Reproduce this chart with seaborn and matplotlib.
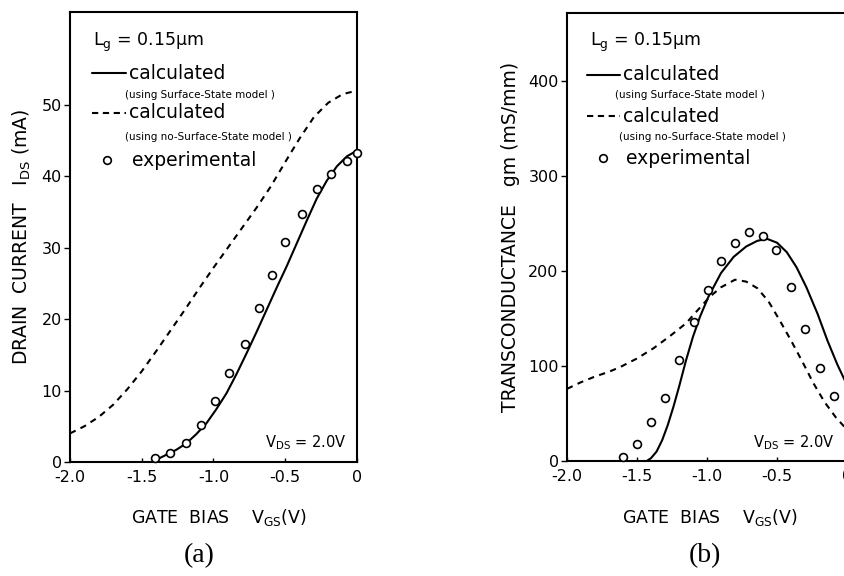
import matplotlib
matplotlib.use("Agg")
import matplotlib.pyplot as plt
import seaborn as sns
import pandas as pd
from matplotlib.lines import Line2D

# ---------------- data ----------------
# (a) drain current
a_solid_x = [-1.43, -1.40, -1.33, -1.26, -1.19, -1.12, -1.05, -0.98, -0.91, -0.84, -0.77, -0.70,
             -0.63, -0.56, -0.49, -0.42, -0.35, -0.28, -0.21, -0.14, -0.07, 0.0]
a_solid_y = [0.0, 0.3, 1.0, 1.7, 2.6, 3.9, 5.4, 7.4, 9.6, 12.3, 15.2, 18.2,
             21.3, 24.4, 27.4, 30.6, 33.8, 36.9, 39.4, 41.4, 42.8, 43.6]
a_dash_x = [-2.0, -1.9, -1.8, -1.7, -1.6, -1.5, -1.4, -1.3, -1.2, -1.1, -1.0, -0.9, -0.8,
            -0.7, -0.6, -0.5, -0.4, -0.3, -0.2, -0.1, 0.0]
a_dash_y = [4.0, 5.0, 6.3, 8.0, 10.2, 12.7, 15.5, 18.4, 21.3, 24.3, 27.2, 30.0, 32.8,
            35.6, 38.6, 42.0, 45.3, 48.3, 50.3, 51.5, 52.0]
a_exp_x = [-1.41, -1.30, -1.19, -1.09, -0.99, -0.89, -0.78, -0.68, -0.59, -0.50,
           -0.38, -0.28, -0.18, -0.07, 0.0]
a_exp_y = [0.5, 1.2, 2.7, 5.2, 8.6, 12.4, 16.5, 21.6, 26.2, 30.8,
           34.7, 38.2, 40.3, 42.1, 43.2]

# (b) transconductance
b_solid_x = [-1.43, -1.40, -1.36, -1.32, -1.28, -1.24, -1.20, -1.15, -1.10, -1.05, -0.99,
             -0.90, -0.81, -0.72, -0.64, -0.57, -0.50, -0.43, -0.36, -0.29, -0.21, -0.14,
             -0.07, 0.0]
b_solid_y = [0, 3, 10, 22, 38, 57, 78, 106, 131, 152, 173,
             198, 215, 226, 232, 234, 230, 220, 204, 183, 155, 127,
             102, 80]
b_dash_x = [-2.0, -1.9, -1.8, -1.7, -1.62, -1.5, -1.38, -1.27, -1.15, -1.06, -0.98, -0.90,
            -0.80, -0.72, -0.64, -0.56, -0.48, -0.40, -0.32, -0.24, -0.16, -0.08, 0.0]
b_dash_y = [76, 83, 89, 94, 99, 108, 119, 131, 145, 160, 173, 183,
            191, 189, 182, 168, 148, 127, 105, 82, 62, 46, 33]
b_exp_x = [-1.60, -1.50, -1.40, -1.30, -1.20, -1.09, -0.99, -0.90, -0.80, -0.70,
           -0.60, -0.51, -0.40, -0.30, -0.19, -0.095]
b_exp_y = [4, 18, 41, 66, 106, 146, 180, 211, 230, 241,
           237, 222, 183, 139, 98, 69]

x_ticks = [-2.0, -1.5, -1.0, -0.5, 0.0]
x_ticklabels = ["-2.0", "-1.5", "-1.0", "-0.5", "0"]
a_yticks = [0, 10, 20, 30, 40, 50]
b_yticks = [0, 100, 200, 300, 400]

# ---------------- style ----------------
sns.set_theme(style="ticks")
plt.rcParams["font.family"] = ["DejaVu Sans"]
plt.rcParams["axes.linewidth"] = 1.5
plt.rcParams["xtick.major.width"] = 1.0
plt.rcParams["ytick.major.width"] = 1.0
plt.rcParams["text.color"] = "black"
plt.rcParams["axes.labelcolor"] = "black"
plt.rcParams["xtick.color"] = "black"
plt.rcParams["ytick.color"] = "black"
plt.rcParams["axes.edgecolor"] = "black"

fig = plt.figure(figsize=(8.45, 5.76), dpi=100)
W, H = 845.0, 576.0
axA = fig.add_axes([70 / W, 1 - 462 / H, 287 / W, 450 / H])
axB = fig.add_axes([567 / W, 1 - 461 / H, 280 / W, 448 / H])


def draw(ax, sx, sy, dx, dy, ex, ey):
    sns.lineplot(data=pd.DataFrame({"x": sx, "y": sy}), x="x", y="y", ax=ax,
                 color="black", lw=1.5, sort=False, estimator=None)
    sns.lineplot(data=pd.DataFrame({"x": dx, "y": dy}), x="x", y="y", ax=ax,
                 color="black", lw=1.5, linestyle=(0, (3, 2.6)), sort=False, estimator=None)
    sns.scatterplot(data=pd.DataFrame({"x": ex, "y": ey}), x="x", y="y", ax=ax,
                    marker="o", s=32, facecolor="white", edgecolor="black",
                    linewidth=1.2, zorder=5, clip_on=False)


draw(axA, a_solid_x, a_solid_y, a_dash_x, a_dash_y, a_exp_x, a_exp_y)
draw(axB, b_solid_x, b_solid_y, b_dash_x, b_dash_y, b_exp_x, b_exp_y)

axA.set_xlim(-2.0, 0.0)
axA.set_ylim(0, 63)
axB.set_xlim(-2.0, 0.0)
axB.set_ylim(0, 472)

for ax, yt in ((axA, a_yticks), (axB, b_yticks)):
    ax.set_xticks(x_ticks)
    ax.set_xticklabels(x_ticklabels)
    ax.set_yticks(yt)
    ax.set_yticklabels([str(v) for v in yt])
    ax.tick_params(axis="x", direction="in", length=3, labelsize=11.5, pad=6, colors="black")
    ax.tick_params(axis="y", direction="out", length=4, labelsize=11.5, pad=2, colors="black")
    ax.set_xlabel("")
    for s in ax.spines.values():
        s.set_visible(True)
        s.set_color("black")

axA.set_ylabel("DRAIN  CURRENT   $\\mathrm{I_{DS}}$ (mA)", fontsize=13.5, labelpad=6)
axB.set_ylabel("TRANSCONDUCTANCE   gm (mS/mm)", fontsize=13.5, labelpad=6)


def legend(ax, p):
    ax.text(p["lg"][0], p["lg"][1], "$\\mathrm{L_g}$ = 0.15μm", transform=ax.transAxes,
            fontsize=12.5, va="center", ha="left")
    ax.add_line(Line2D(p["sl"][0:2], [p["sl"][2]] * 2, transform=ax.transAxes,
                       color="black", lw=1.5))
    ax.text(p["c1"][0], p["c1"][1], "calculated", transform=ax.transAxes,
            fontsize=13.5, va="center", ha="left")
    ax.text(p["s1"][0], p["s1"][1], "(using Surface-State model )", transform=ax.transAxes,
            fontsize=7.5, va="center", ha="left")
    ax.add_line(Line2D(p["dl"][0:2], [p["dl"][2]] * 2, transform=ax.transAxes,
                       color="black", lw=1.5, linestyle=(0, (3, 2.2))))
    ax.text(p["c2"][0], p["c2"][1], "calculated", transform=ax.transAxes,
            fontsize=13.5, va="center", ha="left")
    ax.text(p["s2"][0], p["s2"][1], "(using no-Surface-State model )", transform=ax.transAxes,
            fontsize=7.5, va="center", ha="left")
    ax.add_line(Line2D([p["mk"][0]], [p["mk"][1]], transform=ax.transAxes, marker="o",
                       markersize=5.5, markerfacecolor="white", markeredgecolor="black",
                       markeredgewidth=1.2, linestyle="none"))
    ax.text(p["ex"][0], p["ex"][1], "experimental", transform=ax.transAxes,
            fontsize=13.5, va="center", ha="left")
    ax.text(p["vd"][0], p["vd"][1], "$\\mathrm{V_{DS}}$ = 2.0V", transform=ax.transAxes,
            fontsize=10.5, va="center", ha="left")


legend(axA, {"lg": (0.080, 0.933), "sl": (0.077, 0.195, 0.864), "c1": (0.205, 0.864),
             "s1": (0.190, 0.816), "dl": (0.077, 0.195, 0.776), "c2": (0.205, 0.776),
             "s2": (0.190, 0.722), "mk": (0.129, 0.671), "ex": (0.215, 0.671),
             "vd": (0.68, 0.042)})
legend(axB, {"lg": (0.082, 0.935), "sl": (0.071, 0.189, 0.862), "c1": (0.200, 0.862),
             "s1": (0.171, 0.817), "dl": (0.071, 0.189, 0.770), "c2": (0.200, 0.770),
             "s2": (0.185, 0.723), "mk": (0.129, 0.676), "ex": (0.212, 0.676),
             "vd": (0.665, 0.042)})

fig.text(219 / W, 1 - 517 / H, "GATE  BIAS    $\\mathrm{V_{GS}}$(V)", fontsize=12.5,
         ha="center", va="center")
fig.text(710 / W, 1 - 517 / H, "GATE  BIAS    $\\mathrm{V_{GS}}$(V)", fontsize=12.5,
         ha="center", va="center")
fig.text(199 / W, 1 - 556 / H, "(a)", fontsize=20, family="Liberation Serif",
         ha="center", va="center")
fig.text(705 / W, 1 - 556 / H, "(b)", fontsize=20, family="Liberation Serif",
         ha="center", va="center")

fig.savefig("out.png", dpi=100)
